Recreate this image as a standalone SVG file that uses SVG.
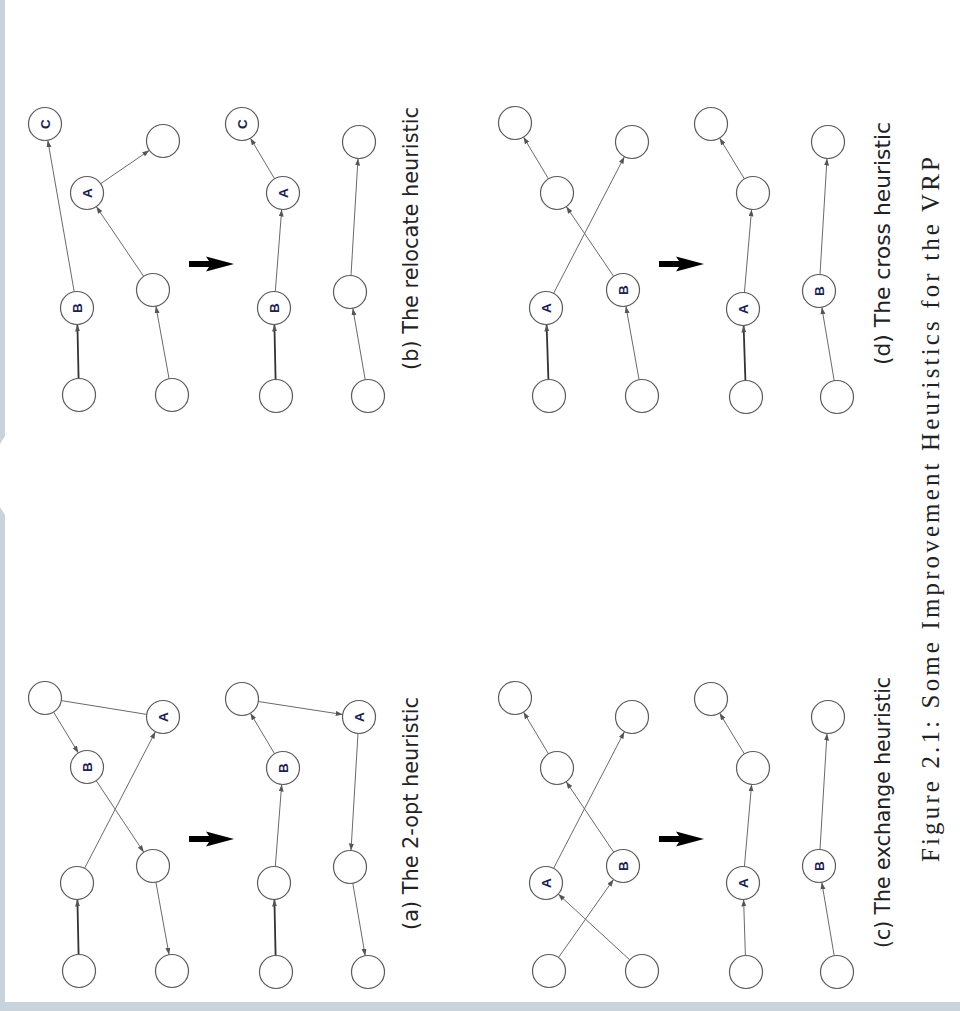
<svg xmlns="http://www.w3.org/2000/svg" width="960" height="1011" viewBox="0 0 960 1011">
<defs>
<style>
.n{fill:#fff;stroke:#5a5a5a;stroke-width:1.2}
.e{stroke:#6a6a6a;stroke-width:1;fill:none;marker-end:url(#ah)}
.t{stroke:#333;stroke-width:1.8;fill:none;marker-end:url(#ah)}
.p{stroke:#6a6a6a;stroke-width:1;fill:none}
.lb{font-family:"Liberation Sans",Arial,sans-serif;font-weight:bold;font-size:13.5px;fill:#1c2152;text-anchor:middle}
.cap{font-family:"DejaVu Sans","Liberation Sans",sans-serif;font-size:21px;fill:#222}
.fig{font-family:"Liberation Serif","Times New Roman",serif;font-size:25px;fill:#222}
</style>
<marker id="ah" markerUnits="userSpaceOnUse" markerWidth="8" markerHeight="6" refX="7" refY="2.5" orient="auto">
<path d="M0,0 L7,2.5 L0,5 Z" fill="#555"/>
</marker>
<g id="fat">
<rect x="0" y="-3" width="22" height="6" fill="#000"/>
<path d="M17,-7.5 L45,0 L17,7.5 L22,0 Z" fill="#000"/>
</g>
</defs>
<rect width="960" height="1011" fill="#fff"/>
<g id="frame" fill="#c9d3dc">
<path d="M0,0 L5,0 L5,436 L0,444 Z"/>
<path d="M0,507 L5,515 L5,1002 L960,1002 L960,1011 L0,1011 Z"/>
</g>

<g id="connectors">
<!-- (b) before -->
<line class="t" x1="78.6" y1="378.5" x2="77.4" y2="324.5"/>
<line class="e" x1="74.2" y1="291.7" x2="47.8" y2="140.3"/>
<line class="e" x1="169.1" y1="378.8" x2="155.9" y2="306.2"/>
<line class="e" x1="143.7" y1="276.4" x2="96.3" y2="206.6"/>
<line class="e" x1="100.6" y1="183.7" x2="149.4" y2="150.3"/>
<!-- (b) after -->
<line class="t" x1="275.6" y1="379.5" x2="274.4" y2="324.5"/>
<line class="e" x1="275.3" y1="291.5" x2="281.7" y2="209.5"/>
<line class="e" x1="274.6" y1="178.8" x2="250.4" y2="138.2"/>
<line class="e" x1="365.2" y1="379.7" x2="352.8" y2="308.3"/>
<line class="e" x1="351.0" y1="275.5" x2="358.0" y2="158.5"/>
<!-- (d) before -->
<line class="t" x1="548.4" y1="379.5" x2="546.6" y2="324.5"/>
<line class="e" x1="553.6" y1="293.3" x2="624.4" y2="156.7"/>
<line class="e" x1="639.1" y1="379.8" x2="625.9" y2="306.2"/>
<line class="e" x1="613.7" y1="276.4" x2="566.3" y2="206.6"/>
<line class="e" x1="548.5" y1="178.9" x2="523.5" y2="137.1"/>
<!-- (d) after -->
<line class="t" x1="745.4" y1="380.5" x2="743.6" y2="325.5"/>
<line class="e" x1="744.4" y1="292.6" x2="751.6" y2="209.4"/>
<line class="e" x1="744.4" y1="178.9" x2="719.6" y2="138.1"/>
<line class="e" x1="834.2" y1="380.7" x2="821.8" y2="307.3"/>
<line class="e" x1="820.0" y1="274.5" x2="827.0" y2="158.5"/>
<!-- (a) before -->
<line class="t" x1="78.6" y1="954.5" x2="77.4" y2="899.5"/>
<line class="e" x1="84.6" y1="868.3" x2="155.4" y2="731.7"/>
<line class="e" x1="53.6" y1="712.1" x2="78.4" y2="752.9"/>
<line class="p" x1="61.3" y1="700.6" x2="146.7" y2="714.4"/>
<line class="e" x1="96.2" y1="780.7" x2="143.8" y2="852.3"/>
<line class="e" x1="155.9" y1="882.2" x2="169.1" y2="954.8"/>
<!-- (a) after -->
<line class="t" x1="275.6" y1="955.5" x2="274.4" y2="899.5"/>
<line class="e" x1="275.3" y1="866.5" x2="281.7" y2="784.5"/>
<line class="e" x1="274.6" y1="753.8" x2="250.4" y2="713.2"/>
<line class="e" x1="258.3" y1="701.5" x2="342.7" y2="714.5"/>
<line class="e" x1="358.0" y1="733.5" x2="351.0" y2="850.5"/>
<line class="e" x1="352.8" y1="883.3" x2="365.2" y2="955.7"/>
<!-- (c) before -->
<line class="e" x1="558.5" y1="957.5" x2="613.5" y2="879.5"/>
<line class="e" x1="629.8" y1="959.9" x2="558.2" y2="894.1"/>
<line class="e" x1="553.6" y1="868.3" x2="624.4" y2="731.7"/>
<line class="e" x1="613.8" y1="852.3" x2="566.2" y2="781.7"/>
<line class="e" x1="548.5" y1="753.9" x2="523.5" y2="712.1"/>
<!-- (c) after -->
<line class="e" x1="745.4" y1="955.5" x2="743.6" y2="899.5"/>
<line class="e" x1="744.4" y1="866.6" x2="751.6" y2="784.4"/>
<line class="e" x1="744.4" y1="753.9" x2="719.6" y2="713.1"/>
<line class="e" x1="834.2" y1="955.7" x2="821.8" y2="882.3"/>
<line class="e" x1="820.0" y1="849.5" x2="827.0" y2="733.5"/>
<!-- transformation arrows -->
<use href="#fat" x="189" y="264"/>
<use href="#fat" x="659" y="264"/>
<use href="#fat" x="189" y="839"/>
<use href="#fat" x="659" y="839"/>
</g>

<!-- (b) relocate, before -->
<g id="b1-C"><circle class="n" cx="45" cy="124" r="16.5"/><text class="lb" transform="translate(45,124) rotate(-90)" dy="4.8">C</text></g>
<g id="b1-A"><circle class="n" cx="87" cy="193" r="16.5"/><text class="lb" transform="translate(87,193) rotate(-90)" dy="4.8">A</text></g>
<g id="b1-TR"><circle class="n" cx="163" cy="141" r="16.5"/></g>
<g id="b1-B"><circle class="n" cx="77" cy="308" r="16.5"/><text class="lb" transform="translate(77,308) rotate(-90)" dy="4.8">B</text></g>
<g id="b1-M"><circle class="n" cx="153" cy="290" r="16.5"/></g>
<g id="b1-BL"><circle class="n" cx="79" cy="395" r="16.5"/></g>
<g id="b1-BR"><circle class="n" cx="172" cy="395" r="16.5"/></g>
<!-- (b) after -->
<g id="b2-C"><circle class="n" cx="242" cy="124" r="16.5"/><text class="lb" transform="translate(242,124) rotate(-90)" dy="4.8">C</text></g>
<g id="b2-A"><circle class="n" cx="283" cy="193" r="16.5"/><text class="lb" transform="translate(283,193) rotate(-90)" dy="4.8">A</text></g>
<g id="b2-B"><circle class="n" cx="274" cy="308" r="16.5"/><text class="lb" transform="translate(274,308) rotate(-90)" dy="4.8">B</text></g>
<g id="b2-BL"><circle class="n" cx="276" cy="396" r="16.5"/></g>
<g id="b2-TR"><circle class="n" cx="359" cy="142" r="16.5"/></g>
<g id="b2-M"><circle class="n" cx="350" cy="292" r="16.5"/></g>
<g id="b2-BR"><circle class="n" cx="368" cy="396" r="16.5"/></g>
<!-- (d) cross, before -->
<g id="d1-TL"><circle class="n" cx="515" cy="123" r="16.5"/></g>
<g id="d1-TR"><circle class="n" cx="632" cy="142" r="16.5"/></g>
<g id="d1-M"><circle class="n" cx="557" cy="193" r="16.5"/></g>
<g id="d1-A"><circle class="n" cx="546" cy="308" r="16.5"/><text class="lb" transform="translate(546,308) rotate(-90)" dy="4.8">A</text></g>
<g id="d1-B"><circle class="n" cx="623" cy="290" r="16.5"/><text class="lb" transform="translate(623,290) rotate(-90)" dy="4.8">B</text></g>
<g id="d1-BL"><circle class="n" cx="549" cy="396" r="16.5"/></g>
<g id="d1-BR"><circle class="n" cx="642" cy="396" r="16.5"/></g>
<!-- (d) after -->
<g id="d2-T"><circle class="n" cx="711" cy="124" r="16.5"/></g>
<g id="d2-M"><circle class="n" cx="753" cy="193" r="16.5"/></g>
<g id="d2-A"><circle class="n" cx="743" cy="309" r="16.5"/><text class="lb" transform="translate(743,309) rotate(-90)" dy="4.8">A</text></g>
<g id="d2-BL"><circle class="n" cx="746" cy="397" r="16.5"/></g>
<g id="d2-TR"><circle class="n" cx="828" cy="142" r="16.5"/></g>
<g id="d2-B"><circle class="n" cx="819" cy="291" r="16.5"/><text class="lb" transform="translate(819,291) rotate(-90)" dy="4.8">B</text></g>
<g id="d2-BR"><circle class="n" cx="837" cy="397" r="16.5"/></g>
<!-- (a) 2-opt, before -->
<g id="a1-TL"><circle class="n" cx="45" cy="698" r="16.5"/></g>
<g id="a1-A"><circle class="n" cx="163" cy="717" r="16.5"/><text class="lb" transform="translate(163,717) rotate(-90)" dy="4.8">A</text></g>
<g id="a1-B"><circle class="n" cx="87" cy="767" r="16.5"/><text class="lb" transform="translate(87,767) rotate(-90)" dy="4.8">B</text></g>
<g id="a1-ML"><circle class="n" cx="77" cy="883" r="16.5"/></g>
<g id="a1-MR"><circle class="n" cx="153" cy="866" r="16.5"/></g>
<g id="a1-BL"><circle class="n" cx="79" cy="971" r="16.5"/></g>
<g id="a1-BR"><circle class="n" cx="172" cy="971" r="16.5"/></g>
<!-- (a) after -->
<g id="a2-TL"><circle class="n" cx="242" cy="699" r="16.5"/></g>
<g id="a2-A"><circle class="n" cx="359" cy="717" r="16.5"/><text class="lb" transform="translate(359,717) rotate(-90)" dy="4.8">A</text></g>
<g id="a2-B"><circle class="n" cx="283" cy="768" r="16.5"/><text class="lb" transform="translate(283,768) rotate(-90)" dy="4.8">B</text></g>
<g id="a2-ML"><circle class="n" cx="274" cy="883" r="16.5"/></g>
<g id="a2-MR"><circle class="n" cx="350" cy="867" r="16.5"/></g>
<g id="a2-BL"><circle class="n" cx="276" cy="972" r="16.5"/></g>
<g id="a2-BR"><circle class="n" cx="368" cy="972" r="16.5"/></g>
<!-- (c) exchange, before -->
<g id="c1-TL"><circle class="n" cx="515" cy="698" r="16.5"/></g>
<g id="c1-TR"><circle class="n" cx="632" cy="717" r="16.5"/></g>
<g id="c1-M"><circle class="n" cx="557" cy="768" r="16.5"/></g>
<g id="c1-A"><circle class="n" cx="546" cy="883" r="16.5"/><text class="lb" transform="translate(546,883) rotate(-90)" dy="4.8">A</text></g>
<g id="c1-B"><circle class="n" cx="623" cy="866" r="16.5"/><text class="lb" transform="translate(623,866) rotate(-90)" dy="4.8">B</text></g>
<g id="c1-BL"><circle class="n" cx="549" cy="971" r="16.5"/></g>
<g id="c1-BR"><circle class="n" cx="642" cy="971" r="16.5"/></g>
<!-- (c) after -->
<g id="c2-T"><circle class="n" cx="711" cy="699" r="16.5"/></g>
<g id="c2-M"><circle class="n" cx="753" cy="768" r="16.5"/></g>
<g id="c2-A"><circle class="n" cx="743" cy="883" r="16.5"/><text class="lb" transform="translate(743,883) rotate(-90)" dy="4.8">A</text></g>
<g id="c2-BL"><circle class="n" cx="746" cy="972" r="16.5"/></g>
<g id="c2-TR"><circle class="n" cx="828" cy="717" r="16.5"/></g>
<g id="c2-B"><circle class="n" cx="819" cy="866" r="16.5"/><text class="lb" transform="translate(819,866) rotate(-90)" dy="4.8">B</text></g>
<g id="c2-BR"><circle class="n" cx="837" cy="972" r="16.5"/></g>

<g id="captions">
<text class="cap" transform="translate(418,370) rotate(-90)" textLength="263" lengthAdjust="spacingAndGlyphs">(b) The relocate heuristic</text>
<text class="cap" transform="translate(890,365) rotate(-90)" textLength="243" lengthAdjust="spacingAndGlyphs">(d) The cross heuristic</text>
<text class="cap" transform="translate(418,930) rotate(-90)" textLength="233" lengthAdjust="spacingAndGlyphs">(a) The 2-opt heuristic</text>
<text class="cap" transform="translate(890,948) rotate(-90)" textLength="271" lengthAdjust="spacingAndGlyphs">(c) The exchange heuristic</text>
<text class="fig" transform="translate(939,862) rotate(-90)" textLength="705" lengthAdjust="spacing">Figure 2.1: Some Improvement Heuristics for the VRP</text>
</g>
</svg>
